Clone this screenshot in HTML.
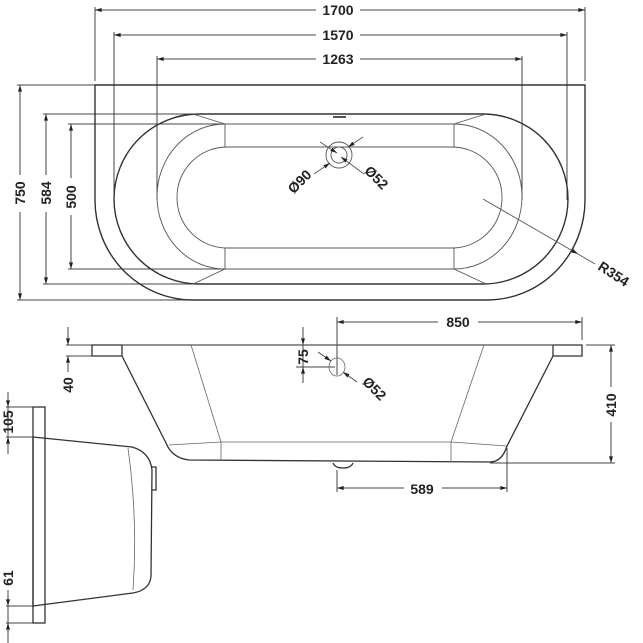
<!DOCTYPE html>
<html><head><style>
html,body{margin:0;padding:0;background:#fff;}
svg{display:block;}
text{font-family:"Liberation Sans",sans-serif;font-weight:bold;font-size:14px;fill:#222;}
</style></head><body>
<svg width="643" height="643" viewBox="0 0 643 643" xmlns="http://www.w3.org/2000/svg">
<defs>
<marker id="a" viewBox="0 0 10 6" refX="10" refY="3" markerWidth="8" markerHeight="4" orient="auto-start-reverse" markerUnits="userSpaceOnUse"><path d="M0,0 L10,3 L0,6z" fill="#222"/></marker>
</defs>
<g fill="none" stroke="#444" stroke-width="1">
<!-- TOP VIEW dims -->
<line x1="95" y1="7" x2="95" y2="81"/><line x1="585" y1="7" x2="585" y2="81"/>
<line x1="95" y1="10" x2="316" y2="10" marker-start="url(#a)"/><line x1="360" y1="10" x2="585" y2="10" marker-end="url(#a)"/>
<line x1="114" y1="32" x2="114" y2="200"/><line x1="567" y1="32" x2="567" y2="200"/>
<line x1="114" y1="35" x2="316" y2="35" marker-start="url(#a)"/><line x1="360" y1="35" x2="567" y2="35" marker-end="url(#a)"/>
<line x1="157" y1="56" x2="157" y2="200"/><line x1="522" y1="56" x2="522" y2="200"/>
<line x1="157" y1="59" x2="316" y2="59" marker-start="url(#a)"/><line x1="360" y1="59" x2="522" y2="59" marker-end="url(#a)"/>
<!-- left vertical dims -->
<line x1="17" y1="85" x2="95" y2="85"/><line x1="17" y1="300" x2="193" y2="300"/>
<line x1="20" y1="85" x2="20" y2="175" marker-start="url(#a)"/><line x1="20" y1="212" x2="20" y2="300" marker-end="url(#a)"/>
<line x1="43" y1="114" x2="193" y2="114"/><line x1="43" y1="284" x2="193" y2="284"/>
<line x1="46" y1="114" x2="46" y2="175" marker-start="url(#a)"/><line x1="46" y1="212" x2="46" y2="284" marker-end="url(#a)"/>
<line x1="68" y1="124" x2="225" y2="124"/><line x1="68" y1="269" x2="225" y2="269"/>
<line x1="71" y1="124" x2="71" y2="178" marker-start="url(#a)"/><line x1="71" y1="215" x2="71" y2="269" marker-end="url(#a)"/>
</g>
<g fill="none" stroke="#333" stroke-width="1.4">
<path d="M95,85 H585 V200 A98,100 0 0 1 487,300 H193 A98,100 0 0 1 95,200 Z"/>
<rect x="114" y="114" width="454" height="170" rx="85" ry="85"/>
</g>
<g fill="none" stroke="#555" stroke-width="0.9">
<path d="M225,124 H454 A68,72.5 0 0 1 454,269 H225 A68,72.5 0 0 1 225,124 Z"/>
<rect x="177" y="147" width="325" height="101" rx="50" ry="50"/>
<line x1="225" y1="124" x2="225" y2="147"/><line x1="225" y1="248" x2="225" y2="269"/>
<line x1="454" y1="124" x2="454" y2="147"/><line x1="454" y1="248" x2="454" y2="269"/>
<line x1="193" y1="114" x2="225" y2="124"/><line x1="486" y1="114" x2="454" y2="124"/>
<line x1="193" y1="284" x2="225" y2="269"/><line x1="486" y1="284" x2="454" y2="269"/>
<line x1="333" y1="117" x2="346" y2="117" stroke-width="2"/>
<circle cx="339" cy="155" r="13"/><circle cx="339" cy="155" r="8"/>
<line x1="320" y1="142" x2="337" y2="153" marker-end="url(#a)"/><line x1="341" y1="157" x2="364" y2="174" marker-start="url(#a)"/>
<line x1="363" y1="137" x2="348" y2="147" marker-end="url(#a)"/><line x1="330" y1="163" x2="314" y2="174" marker-start="url(#a)"/>
<line x1="483" y1="199" x2="578" y2="254" marker-end="url(#a)"/><line x1="578" y1="254" x2="595" y2="264"/>
</g>
<text x="338" y="15" text-anchor="middle">1700</text>
<text x="338" y="40" text-anchor="middle">1570</text>
<text x="338" y="64" text-anchor="middle">1263</text>
<text transform="translate(25,193) rotate(-90)" text-anchor="middle">750</text>
<text transform="translate(51,193) rotate(-90)" text-anchor="middle">584</text>
<text transform="translate(76,197) rotate(-90)" text-anchor="middle">500</text>
<text transform="translate(303,185) rotate(-45)" text-anchor="middle">Ø90</text>
<text transform="translate(373,181) rotate(45)" text-anchor="middle">Ø52</text>
<text transform="translate(611,278) rotate(33)" text-anchor="middle">R354</text>

<!-- FRONT VIEW -->
<g fill="none" stroke="#444" stroke-width="1">
<line x1="337" y1="317" x2="337" y2="375"/><line x1="582" y1="317" x2="582" y2="340"/>
<line x1="337" y1="322" x2="438" y2="322" marker-start="url(#a)"/><line x1="478" y1="322" x2="582" y2="322" marker-end="url(#a)"/>
<line x1="586" y1="345" x2="615" y2="345"/><line x1="490" y1="463" x2="615" y2="463"/>
<line x1="611" y1="345" x2="611" y2="387" marker-start="url(#a)"/><line x1="611" y1="422" x2="611" y2="463" marker-end="url(#a)"/>
<line x1="337" y1="470" x2="337" y2="492"/><line x1="507" y1="448" x2="507" y2="492"/>
<line x1="337" y1="488" x2="404" y2="488" marker-start="url(#a)"/><line x1="442" y1="488" x2="507" y2="488" marker-end="url(#a)"/>
<line x1="303" y1="327" x2="303" y2="345" marker-end="url(#a)"/><line x1="303" y1="367" x2="303" y2="383" marker-start="url(#a)"/>
<line x1="303" y1="345" x2="303" y2="367"/>
<line x1="296" y1="367" x2="335" y2="367"/>
<line x1="66" y1="345" x2="92" y2="345"/><line x1="66" y1="356" x2="92" y2="356"/>
<line x1="68" y1="327" x2="68" y2="345" marker-end="url(#a)"/><line x1="68" y1="356" x2="68" y2="372" marker-start="url(#a)"/>
<line x1="318" y1="352" x2="331" y2="361" marker-end="url(#a)"/><line x1="343" y1="372" x2="357" y2="382" marker-start="url(#a)"/>
<!-- side dims -->
<line x1="6" y1="407" x2="33" y2="407"/><line x1="6" y1="437" x2="33" y2="437"/>
<line x1="8" y1="392" x2="8" y2="407" marker-end="url(#a)"/><line x1="8" y1="437" x2="8" y2="454" marker-start="url(#a)"/>
<line x1="8" y1="407" x2="8" y2="437"/>
<line x1="6" y1="606" x2="33" y2="606"/><line x1="6" y1="623" x2="33" y2="623"/>
<line x1="8" y1="590" x2="8" y2="606" marker-end="url(#a)"/><line x1="8" y1="623" x2="8" y2="643" marker-start="url(#a)"/>
<line x1="8" y1="606" x2="8" y2="623"/>
</g>
<g fill="none" stroke="#333" stroke-width="1.3">
<path d="M92,345 H582 V356 H553 L507,446 Q502,462 490,462 L189,460 Q172,458 166,443 L122,356 H92 Z"/>
<line x1="122" y1="345" x2="122" y2="356"/><line x1="553" y1="345" x2="553" y2="356"/>
<path d="M333,463 Q335,468 343,468 Q351,468 353,463"/>
<rect x="33" y="407" width="12" height="216"/>
<path d="M33,437 L132,447 Q150,452 152,470 L151,576 Q150,590 133,593 L33,606 Z"/>
<path d="M152,467 H156 V490 H152"/>
</g>
<g fill="none" stroke="#666" stroke-width="0.8">
<line x1="122" y1="345" x2="553" y2="345"/>
<line x1="191" y1="345" x2="221" y2="442"/><line x1="221" y1="442" x2="221" y2="461"/>
<line x1="484" y1="345" x2="451" y2="442"/><line x1="451" y1="442" x2="451" y2="462"/>
<path d="M169,445 L221,442 L451,442 L507,446"/>
<ellipse cx="337" cy="367" rx="8" ry="9"/>
<path d="M128,448 Q138,520 133,590"/>
</g>
<text x="458" y="327" text-anchor="middle">850</text>
<text x="422" y="494" text-anchor="middle">589</text>
<text transform="translate(616,405) rotate(-90)" text-anchor="middle">410</text>
<text transform="translate(308,357) rotate(-90)" text-anchor="middle">75</text>
<text transform="translate(73,385) rotate(-90)" text-anchor="middle">40</text>
<text transform="translate(371,392) rotate(45)" text-anchor="middle">Ø52</text>
<text transform="translate(13,422) rotate(-90)" text-anchor="middle">105</text>
<text transform="translate(13,578) rotate(-90)" text-anchor="middle">61</text>
</svg>
</body></html>
